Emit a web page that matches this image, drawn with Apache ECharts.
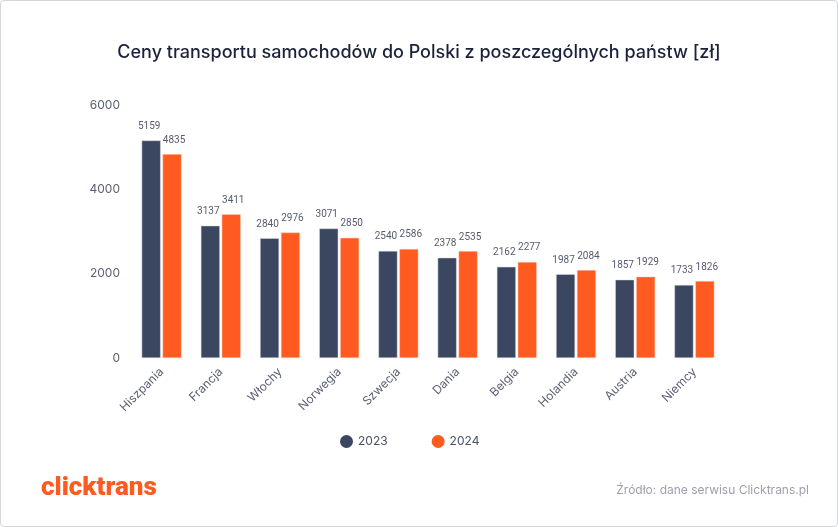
<!DOCTYPE html>
<html><head><meta charset="utf-8">
<script src="https://cdn.jsdelivr.net/npm/echarts@6/dist/echarts.min.js"></script>
<style>
html,body{margin:0;padding:0;background:#fff;}
#c{width:836px;height:525px;border:1px solid #d3d6db;border-radius:4px;}
</style></head>
<body><div id="c"></div>
<script>
const categories = ['Hiszpania','Francja','Włochy','Norwegia','Szwecja','Dania','Belgia','Holandia','Austria','Niemcy'];
const values2023 = [5159,3137,2840,3071,2540,2378,2162,1987,1857,1733];
const values2024 = [4835,3411,2976,2850,2586,2535,2277,2084,1929,1826];
const seriesNames = ['2023','2024'];
const yTicks = [0,2000,4000,6000];
const F = 'Inter, "Noto Sans", sans-serif';
const LF = 'Roboto, sans-serif';
const chart = echarts.init(document.getElementById('c'));
chart.setOption({
  animation:false,
  textStyle:{fontFamily:F},
  title:{text:'Ceny transportu samochodów do Polski z poszczególnych państw [zł]',left:'center',top:38,
    textStyle:{fontSize:18,fontWeight:500,color:'#1b2238',fontFamily:F}},
  legend:{bottom:73,left:334,itemGap:44,icon:'circle',itemWidth:13,itemHeight:13,
    itemStyle:{borderWidth:0},
    textStyle:{color:'#4a5063',fontSize:12,fontFamily:F}},
  grid:{left:131,right:113,top:104,bottom:168,containLabel:false},
  xAxis:{type:'category',data:categories,axisLine:{show:false},axisTick:{show:false},
    axisLabel:{rotate:45,color:'#5b6172',fontSize:12,margin:12,interval:0}},
  yAxis:{type:'value',min:yTicks[0],max:yTicks[yTicks.length-1],interval:2000,
    splitLine:{show:false},axisLine:{show:false},axisTick:{show:false},
    axisLabel:{color:'#5b6172',fontSize:12,margin:12,formatter:v=>String(v)}},
  series:[
    {name:seriesNames[0],type:'bar',data:values2023,barWidth:19,barGap:'10%',
     itemStyle:{color:'#3b4660',borderColor:'#d8dbe2',borderWidth:0.5},
     label:{show:true,position:'top',color:'#555b6e',fontSize:10,fontFamily:LF,distance:9,offset:[-2,0]}},
    {name:seriesNames[1],type:'bar',data:values2024,barWidth:19,
     itemStyle:{color:'#ff5a1f',borderColor:'#ffd0bd',borderWidth:0.5},
     label:{show:true,position:'top',color:'#555b6e',fontSize:10,fontFamily:LF,distance:9,offset:[2,0]}}
  ],
  graphic:[
    {type:'text',left:40,top:474,style:{text:'clicktrans',fill:'#ff5a1f',
      font:'900 26px "Roboto", sans-serif'}},
    {type:'text',right:28,top:483,style:{text:'Źródło: dane serwisu Clicktrans.pl',fill:'#9a9fab',
      font:'12px '+F}}
  ]
});
</script></body></html>
